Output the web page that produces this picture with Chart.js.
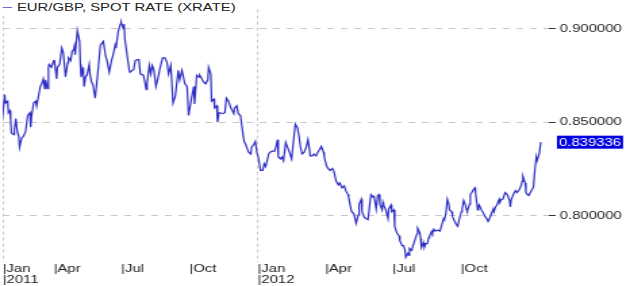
<!DOCTYPE html>
<html>
<head>
<meta charset="utf-8">
<script src="https://cdn.jsdelivr.net/npm/chart.js@4.4.1/dist/chart.umd.min.js"></script>
<style>
html, body { margin: 0; padding: 0; background: #fff; overflow: hidden; }
/* the reference is a horizontally stretched screenshot, so draw narrow and stretch */
#stretch { position: absolute; left: 0; top: 0; width: 466px; height: 286px; transform: scaleX(1.3519); transform-origin: 0 0; }
#wrap { position: relative; width: 466px; height: 286px; }
#title { position: absolute; left: 0; top: 1px; background: #fff; color: #222; font: 11px "Liberation Sans", Arial, sans-serif; line-height: 12px; padding: 0 2px 0 1.5px; white-space: nowrap; }
#title i { display: inline-block; width: 7.5px; height: 1px; background: #6a6ad0; vertical-align: 3px; margin-right: 3.5px; }
</style>
</head>
<body>
<div id="stretch">
  <div id="wrap"><canvas id="fx"></canvas></div>
  <div id="title"><i></i>EUR/GBP, SPOT RATE (XRATE)</div>
</div>
<script>
// days counted from 1 Jan 2011
const days = [
  21, 24, 25, 28, 29, 31, 32, 33, 36, 37, 39, 41, 43, 44, 47, 49, 52, 55, 58, 59,
  60, 63, 66, 67, 70, 72, 74, 76, 78, 79, 82, 83, 84, 87, 90, 91, 94, 95, 98, 101,
  103, 104, 106, 109, 110, 113, 115, 117, 118, 119, 122, 125, 126, 127, 130, 131, 133, 135, 138, 139,
  141, 143, 146, 149, 153, 157, 160, 162, 165, 168, 170, 173, 174, 177, 180, 181, 184, 185, 186, 189,
  192, 193, 196, 198, 200, 203, 205, 207, 211, 213, 215, 216, 219, 221, 223, 225, 228, 231, 233, 237,
  240, 243, 245, 248, 251, 254, 256, 258, 260, 263, 267, 270, 272, 276, 279, 280, 283, 286, 287, 290,
  292, 295, 298, 299, 302, 303, 306, 307, 310, 311, 313, 315, 318, 321, 323, 326, 329, 333, 334, 337,
  339, 342, 345, 347, 349, 353, 356, 357, 360, 362, 364, 366, 369, 372, 374, 376, 378, 380, 382, 385,
  388, 390, 392, 393, 396, 398, 400, 403, 405, 408, 411, 413, 416, 419, 421, 423, 425, 428, 431, 433,
  435, 436, 439, 441, 444, 447, 449, 451, 454, 455, 458, 460, 463, 466, 468, 471, 474, 476, 479, 482,
  484, 487, 488, 491, 492, 495, 498, 501, 502, 505, 506, 509, 511, 514, 517, 518, 521, 522, 525, 527,
  529, 530, 533, 534, 535, 538, 541, 542, 545, 546, 549, 550, 553, 556, 557, 560, 562, 564, 565, 568,
  569, 570, 573, 574, 577, 580, 581, 584, 585, 586, 589, 590, 592, 594, 596, 597, 600, 601, 603, 605,
  608, 611, 613, 616, 617, 619, 621, 623, 624, 627, 628, 631, 633, 635, 637, 640, 641, 643, 645, 647,
  648, 651, 652, 654, 656, 658, 659, 662, 663, 664, 667, 670, 672, 675, 676, 678, 680, 683, 684, 686,
  688, 691, 692, 694, 696, 699, 702, 705, 706, 707, 710, 713, 715, 718, 721, 722, 723, 726, 727, 729,
  731, 733, 735, 737, 739, 741, 742, 745, 747
];
const rates = [
  0.8520, 0.8649, 0.8603, 0.8613, 0.8551, 0.8562, 0.8510, 0.8443, 0.8433, 0.8459, 0.8520, 0.8448, 0.8423, 0.8366, 0.8417, 0.8423, 0.8448, 0.8536, 0.8551, 0.8474,
  0.8526, 0.8603, 0.8613, 0.8588, 0.8649, 0.8691, 0.8706, 0.8732, 0.8680, 0.8727, 0.8680, 0.8794, 0.8809, 0.8794, 0.8830, 0.8830, 0.8732, 0.8794, 0.8809, 0.8897,
  0.8871, 0.8830, 0.8742, 0.8819, 0.8845, 0.8830, 0.8881, 0.8887, 0.8907, 0.8861, 0.8990, 0.8933, 0.8809, 0.8742, 0.8794, 0.8691, 0.8742, 0.8752, 0.8809, 0.8758,
  0.8716, 0.8701, 0.8629, 0.8742, 0.8912, 0.8933, 0.8856, 0.8830, 0.8768, 0.8830, 0.8856, 0.8912, 0.8897, 0.8984, 0.9026, 0.9036, 0.9000, 0.9026, 0.8948, 0.8861,
  0.8778, 0.8768, 0.8778, 0.8783, 0.8830, 0.8835, 0.8835, 0.8758, 0.8752, 0.8716, 0.8675, 0.8706, 0.8804, 0.8758, 0.8804, 0.8783, 0.8691, 0.8742, 0.8783, 0.8845,
  0.8845, 0.8819, 0.8758, 0.8804, 0.8603, 0.8639, 0.8706, 0.8778, 0.8727, 0.8778, 0.8706, 0.8691, 0.8536, 0.8629, 0.8691, 0.8598, 0.8752, 0.8742, 0.8752, 0.8732,
  0.8716, 0.8706, 0.8727, 0.8794, 0.8758, 0.8613, 0.8624, 0.8577, 0.8588, 0.8500, 0.8551, 0.8551, 0.8546, 0.8551, 0.8629, 0.8613, 0.8577, 0.8546, 0.8577, 0.8588,
  0.8546, 0.8536, 0.8448, 0.8397, 0.8381, 0.8340, 0.8330, 0.8366, 0.8381, 0.8397, 0.8340, 0.8314, 0.8242, 0.8242, 0.8278, 0.8263, 0.8294, 0.8330, 0.8340, 0.8345,
  0.8345, 0.8371, 0.8407, 0.8314, 0.8304, 0.8314, 0.8294, 0.8392, 0.8371, 0.8340, 0.8304, 0.8381, 0.8490, 0.8469, 0.8423, 0.8366, 0.8330, 0.8340, 0.8371, 0.8407,
  0.8356, 0.8320, 0.8320, 0.8330, 0.8320, 0.8345, 0.8356, 0.8371, 0.8340, 0.8314, 0.8268, 0.8253, 0.8242, 0.8253, 0.8237, 0.8185, 0.8165, 0.8175, 0.8149, 0.8160,
  0.8134, 0.8113, 0.8098, 0.8036, 0.8021, 0.8010, 0.7959, 0.8005, 0.8062, 0.8088, 0.8021, 0.7990, 0.7985, 0.7979, 0.8082, 0.8113, 0.8098, 0.8108, 0.8036, 0.8108,
  0.8113, 0.8062, 0.8031, 0.8072, 0.8057, 0.8031, 0.7985, 0.8036, 0.8057, 0.8021, 0.8031, 0.7943, 0.7907, 0.7892, 0.7866, 0.7840, 0.7840, 0.7814, 0.7778, 0.7799,
  0.7789, 0.7825, 0.7814, 0.7830, 0.7866, 0.7902, 0.7933, 0.7907, 0.7876, 0.7830, 0.7855, 0.7830, 0.7850, 0.7850, 0.7882, 0.7892, 0.7917, 0.7907, 0.7928, 0.7917,
  0.7923, 0.7917, 0.7943, 0.7985, 0.7979, 0.8010, 0.8088, 0.8062, 0.8031, 0.8021, 0.7995, 0.7969, 0.7953, 0.7943, 0.7979, 0.8021, 0.8036, 0.8082, 0.8062, 0.8031,
  0.8026, 0.8062, 0.8113, 0.8124, 0.8139, 0.8149, 0.8124, 0.8031, 0.8046, 0.8057, 0.8031, 0.8010, 0.7995, 0.7979, 0.7969, 0.7985, 0.8005, 0.8036, 0.8021, 0.8046,
  0.8057, 0.8088, 0.8072, 0.8088, 0.8088, 0.8124, 0.8113, 0.8082, 0.8046, 0.8082, 0.8113, 0.8134, 0.8124, 0.8139, 0.8165, 0.8185, 0.8211, 0.8175, 0.8124, 0.8113,
  0.8108, 0.8124, 0.8139, 0.8149, 0.8242, 0.8314, 0.8294, 0.8330, 0.839336
];

const tickDays = [0, 90, 181, 273, 365, 456, 547, 639];
const tickLabels = [['|Jan', '|2011'], '|Apr', '|Jul', '|Oct', ['|Jan', '|2012'], '|Apr', '|Jul', '|Oct'];
const yTicks = [0.80, 0.85, 0.90];

Chart.defaults.font.family = '"Liberation Sans", Arial, sans-serif';
Chart.defaults.font.size = 11;
Chart.defaults.color = '#222';

const lastValueBox = {
  id: 'lastValueBox',
  afterDraw(chart) {
    const { ctx, chartArea, scales } = chart;
    const v = rates[rates.length - 1];
    const py = scales.y.getPixelForValue(v);
    const txt = v.toFixed(6);
    ctx.save();
    ctx.font = '11px "Liberation Sans", Arial, sans-serif';
    const w = ctx.measureText(txt).width;
    const bx = chartArea.right + 6;
    ctx.fillStyle = '#0000e0';
    ctx.fillRect(bx, py - 6.5, w + 3, 13);
    ctx.fillStyle = '#fff';
    ctx.textBaseline = 'middle';
    ctx.fillText(txt, bx + 1.5, py + 0.5);
    ctx.restore();
  }
};

new Chart(document.getElementById('fx'), {
  type: 'line',
  data: {
    datasets: [{
      label: 'EUR/GBP, SPOT RATE (XRATE)',
      data: days.map((d, i) => ({ x: d, y: rates[i] })),
      borderColor: '#2f2fc4',
      borderWidth: 1.2,
      pointRadius: 0,
      tension: 0,
      fill: false
    }]
  },
  options: {
    responsive: true,
    maintainAspectRatio: false,
    animation: false,
    events: [],
    layout: { padding: 0 },
    plugins: { legend: { display: false }, tooltip: { enabled: false } },
    scales: {
      x: {
        type: 'linear',
        min: 21.3,
        max: 758,
        afterBuildTicks: s => { s.ticks = tickDays.map(d => ({ value: Math.max(d, s.min) })); },
        afterFit: s => { s.height = 24; },
        border: { display: false, dash: [3, 3] },
        grid: {
          drawTicks: false,
          color: c => (Array.isArray(tickLabels[c.index]) ? '#c8c8c8' : 'rgba(0,0,0,0)')
        },
        ticks: {
          autoSkip: false,
          maxRotation: 0,
          align: 'start',
          padding: 2,
          font: { size: 11, lineHeight: 0.95 },
          callback: (v, i) => tickLabels[i]
        }
      },
      y: {
        position: 'right',
        min: 0.7752,
        max: 0.9103,
        afterBuildTicks: s => { s.ticks = yTicks.map(v => ({ value: v })); },
        afterFit: s => { s.width = 60; },
        border: { display: false, dash: [5, 5] },
        grid: { color: '#c8c8c8', tickColor: '#333', tickLength: 5, tickBorderDash: [] },
        ticks: { padding: 3, callback: v => v.toFixed(6) }
      }
    }
  },
  plugins: [lastValueBox]
});
</script>
</body>
</html>
